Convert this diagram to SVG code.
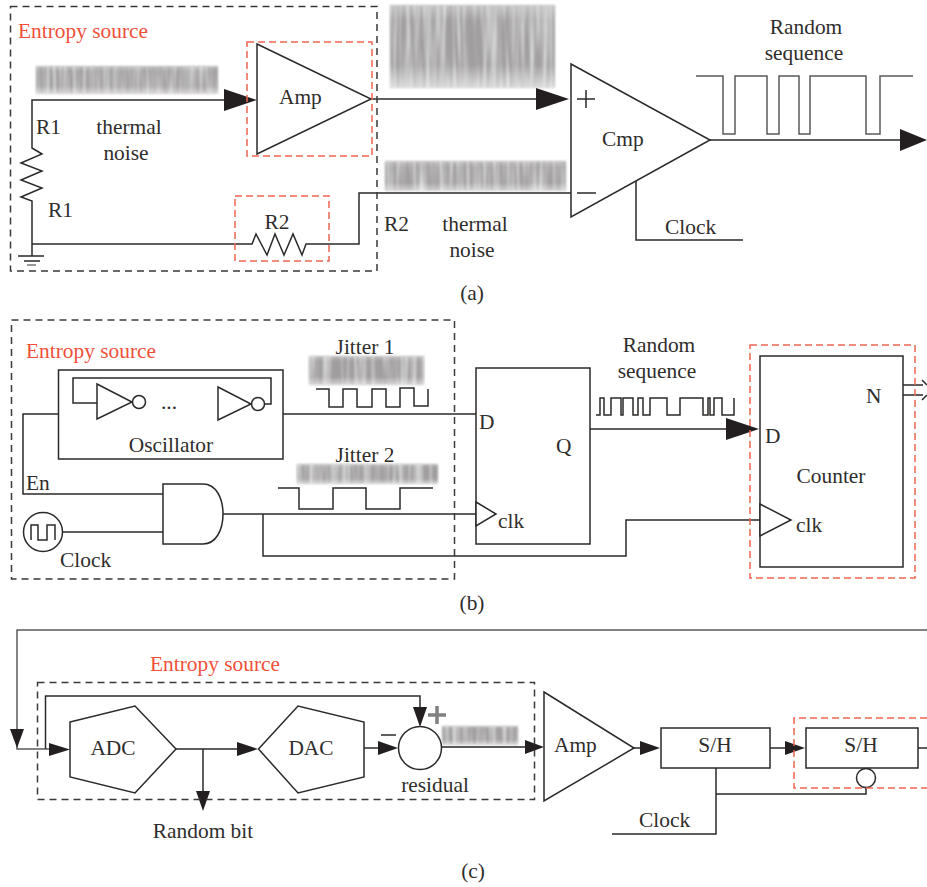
<svg xmlns="http://www.w3.org/2000/svg" width="927" height="887" viewBox="0 0 927 887">
<style>
text{font-family:"Liberation Serif","Times New Roman",serif;font-size:21.4px;fill:#2f2d2c}
.m{text-anchor:middle}
.r{fill:#f0503a}
.l{fill:none;stroke:#2b2a29;stroke-width:1.5}
.g{fill:none;stroke:#5a5a5a;stroke-width:1.5}
.b{fill:#fff;stroke:#2b2a29;stroke-width:1.5}
.d{fill:none;stroke:#3a3a3a;stroke-width:1.5;stroke-dasharray:7 5}
.e{fill:none;stroke:#ee6650;stroke-width:1.5;stroke-dasharray:7 4}
.a{fill:#231f20;stroke:none}
.n{filter:url(#noise)}
.s{fill:url(#fade);filter:url(#soft)}
</style>
<defs>
<filter id="noise" x="0" y="0" width="100%" height="100%" color-interpolation-filters="sRGB">
<feTurbulence type="fractalNoise" baseFrequency="0.3 0.012" numOctaves="2" seed="7"/>
<feColorMatrix type="matrix" values="0 0 0 0 1  0 0 0 0 1  0 0 0 0 1  1.5 0 0 0 -0.55"/>
<feGaussianBlur stdDeviation="0.8"/>
<feComposite in2="SourceAlpha" operator="in"/>
</filter>
<filter id="soft" x="-5%" y="-10%" width="110%" height="120%"><feGaussianBlur stdDeviation="0.8"/></filter>
<linearGradient id="fade" x1="0" y1="0" x2="0" y2="1">
<stop offset="0" stop-color="#bdbbbc"/><stop offset="0.18" stop-color="#a09e9f"/><stop offset="0.72" stop-color="#a09e9f"/><stop offset="1" stop-color="#d4d2d3"/>
</linearGradient>
</defs>

<g id="noise-bands">
<rect class="s" x="36" y="66" width="182" height="28"/><rect class="n" x="36" y="66" width="182" height="28"/>
<rect class="s" x="390" y="5" width="165" height="83"/><rect class="n" x="390" y="5" width="165" height="83"/>
<rect class="s" x="385" y="161" width="181" height="30"/><rect class="n" x="385" y="161" width="181" height="30"/>
<rect class="s" x="309" y="356" width="115" height="29"/><rect class="n" x="309" y="356" width="115" height="29"/>
<rect class="s" x="297" y="464" width="141" height="20"/><rect class="n" x="297" y="464" width="141" height="20"/>
<rect class="s" x="442" y="726" width="76" height="19"/><rect class="n" x="442" y="726" width="76" height="19"/>
</g>

<g id="connectors">
<path class="l" d="M224 100H32V148L42 154L21 163L42 171L21 180L42 188L21 197L32 201V256"/>
<path class="l" d="M32 244H252L256 234L267 255L275 234L284 255L293 234L302 255L306 244H359V193H571"/>
<path class="l" d="M18 256H44M24 261H40"/><path d="M27 265H36" stroke="#777" stroke-width="1.5"/>
<path class="l" d="M371 99H540"/>
<path class="l" d="M636 181V240H743"/>
<path class="l" d="M710 140H905"/>
<path class="g" d="M696 76H723V134H735V76H767V134H779V76H799V134H810V76H866V134H880V76H913"/>
<path class="a" d="M224 89L257 100L224 111Z"/>
<path class="a" d="M536 88L569 99L536 110Z"/>
<path class="a" d="M900 129L927 140L900 151Z"/>

<path class="l" d="M58 414H23V494H163"/>
<path class="l" d="M283 414H476"/>
<path class="l" d="M62 532H163"/>
<path class="l" d="M223 514H476"/>
<path class="l" d="M263 514V556H626V520H760"/>
<path class="l" d="M590 429H730"/>
<path class="a" d="M726 418L759 429L726 440Z"/>
<path class="l" d="M903 385H923M903 395H923"/>
<path class="l" d="M922 380L927 385M922 400L927 395"/>
<path class="l" d="M316 389H329V407H343V389H357V407H372V389H386V407H400V388H414V406H428V389" stroke-width="1.2"/>
<path class="l" d="M278 488H299V509H333V488H366V509H400V488H433" stroke-width="1.2"/>
<path class="l" stroke-width="1.1" d="M596 415H600V398H604V415H611V398H621V415H623V398H633V415H638V398H643V415H650V398H667V415H680V398H703V415H708V398H710V415H714V398H722V415H734V398"/>

<path class="g" d="M927 630H17V749H55"/>
<path class="l" d="M45.500 749V696H420V712"/>
<path class="a" d="M10 729H24L17 748Z"/>
<path class="a" d="M49 743L70 749.500L49 756Z"/>
<path class="a" d="M413 707H427L420 727Z"/>
<path class="l" d="M176 749H240M203 749V795"/>
<path class="a" d="M237 742L258 749L237 756Z"/>
<path class="a" d="M196 791H210L203 811Z"/>
<path class="l" d="M364 748H380"/>
<path class="a" d="M378 741L398 748L378 755Z"/>
<path d="M441 747H528" stroke="#5a5a5a" stroke-width="2.200" fill="none"/>
<path class="a" d="M525 740L544 747L525 754Z"/>
<path class="l" d="M634 748H644"/>
<path class="a" d="M640 741L660 748L640 755Z"/>
<path class="l" d="M770 748H790"/>
<path class="a" d="M785 741L805 748L785 755Z"/>
<path class="l" d="M918 748H927"/>
<path class="l" d="M716 768V834H612"/>
<path class="l" d="M716 794H866V788"/>
</g>

<g id="a-entropy"><rect class="d" x="10.500" y="6.500" width="366.500" height="264.500"/><text class="r" x="18" y="38">Entropy source</text></g>
<g id="a-amp"><path class="b" d="M257 44L371 99L257 154Z"/><rect class="e" x="247" y="42" width="125" height="114"/><text x="279" y="104">Amp</text></g>
<g id="a-r1"><text x="36" y="134">R1</text><text x="48" y="217">R1</text></g>
<g id="a-thermal1"><text class="m" x="129" y="134">thermal</text><text class="m" x="126" y="160">noise</text></g>
<g id="a-r2"><rect class="e" x="235" y="196" width="94" height="65"/><text class="m" x="277" y="229">R2</text></g>
<g id="a-r2-label"><text x="384" y="231">R2</text></g>
<g id="a-thermal2"><text class="m" x="475" y="231">thermal</text><text class="m" x="472" y="257">noise</text></g>
<g id="a-cmp"><path class="b" d="M571 64L710 140L571 217Z"/><path class="l" d="M577 99H595M586 90V108M577 193H596"/><text x="602" y="146">Cmp</text></g>
<g id="a-clock"><text x="665" y="234">Clock</text></g>
<g id="a-seq"><text class="m" x="806" y="34">Random</text><text class="m" x="804" y="60">sequence</text></g>
<g id="a-caption"><text class="m" x="472" y="300">(a)</text></g>

<g id="b-entropy"><rect class="d" x="11.500" y="320" width="443" height="259"/><text class="r" x="26" y="358">Entropy source</text></g>
<g id="b-osc">
<rect class="b" x="58.500" y="370" width="224.500" height="89"/>
<path class="l" d="M97 403H73V378H271V404H265"/>
<path class="b" d="M97 384L132 402L97 419Z"/><circle class="b" cx="139" cy="402" r="6.500"/>
<path class="b" d="M218 387L251 404L218 420Z"/><circle class="b" cx="258" cy="404" r="6.500"/>
<text class="m" x="169" y="409">...</text>
<text class="m" x="171" y="452">Oscillator</text>
</g>
<g id="b-en"><text x="26" y="490">En</text></g>
<g id="b-and"><path class="b" d="M163 484H203C216 484 223 498 223 514C223 530 216 544 203 544H163Z"/></g>
<g id="b-clock"><circle class="b" cx="43" cy="532" r="19.500"/><path class="l" d="M31 540V525H38V540H47V525H55V540"/><text x="60" y="567">Clock</text></g>
<g id="b-jitter"><text class="m" x="365" y="354">Jitter 1</text><text class="m" x="365" y="462">Jitter 2</text></g>
<g id="b-ff">
<rect class="b" x="476" y="368" width="114" height="176"/>
<path class="b" d="M476 502L496 514L476 526Z"/>
<text x="479" y="429">D</text><text x="556" y="453">Q</text><text x="498" y="528">clk</text>
</g>
<g id="b-seq"><text class="m" x="659" y="352">Random</text><text class="m" x="657" y="378">sequence</text></g>
<g id="b-counter">
<rect class="b" x="760" y="356" width="143" height="211"/>
<rect class="e" x="750" y="345" width="165" height="233"/>
<path class="b" d="M760 504L791 520L760 536Z"/>
<text x="765" y="443">D</text><text x="866" y="403">N</text><text class="m" x="831" y="483">Counter</text><text x="796" y="532">clk</text>
</g>
<g id="b-caption"><text class="m" x="472" y="610">(b)</text></g>

<g id="c-entropy"><rect class="d" x="37.500" y="682.500" width="497" height="117"/><text class="r" x="150" y="671">Entropy source</text></g>
<g id="c-adc"><path class="b" d="M70 722L135 706L176 749L135 793L70 777Z"/><text class="m" x="113" y="755">ADC</text></g>
<g id="c-dac"><path class="b" d="M258.500 749L298 706L364 722V777L298 793Z"/><text class="m" x="311" y="755">DAC</text></g>
<g id="c-bit"><text class="m" x="203" y="838">Random bit</text></g>
<g id="c-sum">
<circle class="b" cx="420" cy="748" r="21.500"/>
<path d="M428 715H446M437 706V724" stroke="#808080" stroke-width="3.500" fill="none"/>
<path class="l" d="M381 735H396"/>
<text class="m" x="435" y="792">residual</text>
</g>
<g id="c-amp"><path class="b" d="M544 692L634 748L544 801Z"/><text x="554" y="752">Amp</text></g>
<g id="c-sh1"><rect class="b" x="661" y="728" width="109" height="40"/><text class="m" x="715" y="752">S/H</text></g>
<g id="c-sh2">
<rect class="b" x="806" y="728" width="112" height="40"/><text class="m" x="861" y="752">S/H</text>
<circle class="b" cx="866" cy="778" r="9.500"/>
<path class="e" d="M927 718H794V788H927"/>
</g>
<g id="c-clock"><text x="639" y="827">Clock</text></g>
<g id="c-caption"><text class="m" x="473" y="878">(c)</text></g>
</svg>
